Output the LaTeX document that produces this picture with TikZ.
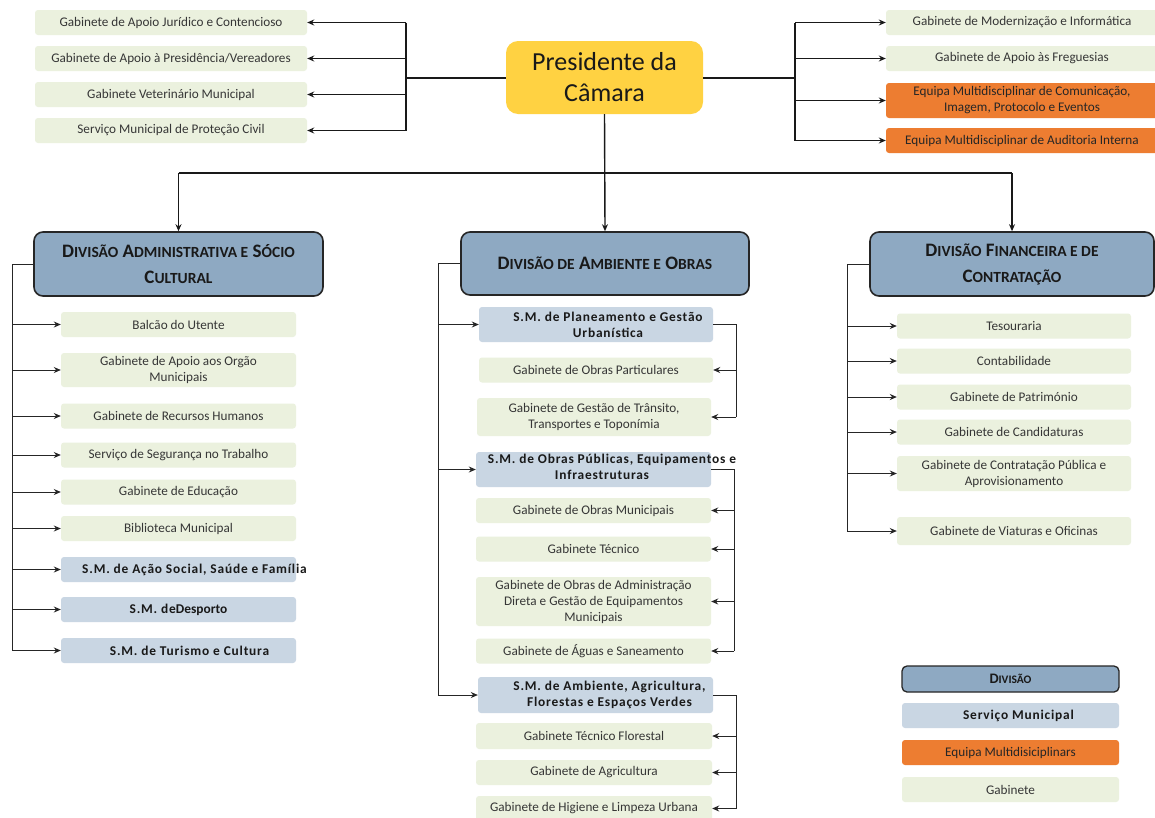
\documentclass[tikz,border=0pt]{standalone}
\usepackage{fontspec}
\setmainfont{Carlito}
\newfontfamily\smfont[LetterSpace=6]{Carlito}
\usetikzlibrary{arrows.meta}
\definecolor{gabc}{HTML}{EBF1DE}
\definecolor{smc}{HTML}{C9D6E3}
\definecolor{divc}{HTML}{8EA9C2}
\definecolor{presc}{HTML}{FFD242}
\definecolor{orc}{HTML}{ED7D31}
\definecolor{txtc}{HTML}{363636}
\newcommand\scx[1]{{\fontsize{15.5}{17}\selectfont #1}}
\tikzset{
  box/.style={rounded corners=3pt, align=center, inner sep=0pt},
  gab/.style={box, fill=gabc, text=txtc, font=\fontsize{13.2}{16}\selectfont},
  orbox/.style={box, fill=orc, text=black!85, font=\fontsize{13.2}{16}\selectfont},
  smbox/.style={box, fill=smc},
  smtext/.style={align=center, inner sep=0pt, text=black!90, font=\smfont\bfseries\fontsize{13.4}{16}\selectfont},
  divbox/.style={rounded corners=9pt, fill=divc, draw=black!85, line width=1.6pt, align=center, text=black!90, font=\bfseries\fontsize{19}{26}\selectfont},
  presbox/.style={rounded corners=12pt, fill=presc, align=center, text=black!90, font=\fontsize{26}{31}\selectfont},
  arr/.style={-{Stealth[length=7pt,width=6pt]}},
  thickln/.style={line width=2pt, black!90},
  midln/.style={line width=1.4pt, black!90},
  ln/.style={line width=0.9pt, black!85},
}
\begin{document}
\begin{tikzpicture}[x=1pt,y=-1pt]
\useasboundingbox (0,0) rectangle (1155,817);
\clip (0,0) rectangle (1155,817);
\fill[white] (0,0) rectangle (1155,817);

% President
\node[presbox, minimum width=197, minimum height=73] (P) at (604.5,77.5) {Presidente da\\Câmara};

% Top left
\node[gab, minimum width=272, minimum height=25] (tl1) at (171,22.5) {Gabinete de Apoio Jurídico e Contencioso};
\node[gab, minimum width=272, minimum height=25] (tl2) at (171,58.5) {Gabinete de Apoio à Presidência/Vereadores};
\node[gab, minimum width=272, minimum height=25] (tl3) at (171,94.5) {Gabinete Veterinário Municipal};
\node[gab, minimum width=272, minimum height=25] (tl4) at (171,130.5) {Serviço Municipal de Proteção Civil};

% Top right
\node[gab, minimum width=272, minimum height=25] (tr1) at (1022,22.5) {Gabinete de Modernização e Informática};
\node[gab, minimum width=272, minimum height=25] (tr2) at (1022,58.5) {Gabinete de Apoio às Freguesias};
\node[orbox, minimum width=272, minimum height=35] (tr3) at (1022,100.5) {Equipa Multidisciplinar de Comunicação,\\Imagem, Protocolo e Eventos};
\node[orbox, minimum width=272, minimum height=25] (tr4) at (1022,140.5) {Equipa Multidisciplinar de Auditoria Interna};

\coordinate (tlx) at (406,77.5);
\coordinate (trx) at (795,77.5);
\draw[thickln] (P.west) -- (tlx);
\draw[thickln] (P.east) -- (trx);
\draw[midln] (tlx |- tl1.east) -- (tlx |- tl4.east);
\draw[midln] (trx |- tr1.west) -- (trx |- tr4.west);
\foreach \n in {tl1,tl2,tl3,tl4} \draw[midln, arr] (tlx |- \n.east) -- (\n.east);
\foreach \n in {tr1,tr2,tr3,tr4} \draw[midln, arr] (trx |- \n.west) -- (\n.west);

% Divisions
\node[divbox, minimum width=289, minimum height=64] (dA) at (178.5,264) {D\scx{IVISÃO} A\scx{DMINISTRATIVA E} S\scx{ÓCIO}\\C\scx{ULTURAL}};
\node[divbox, minimum width=288, minimum height=63] (dB) at (605,263.5) {D\scx{IVISÃO DE} A\scx{MBIENTE E} O\scx{BRAS}};
\node[divbox, minimum width=284, minimum height=64] (dC) at (1012,264) {D\scx{IVISÃO} F\scx{INANCEIRA E DE}\\C\scx{ONTRATAÇÃO}};

\coordinate (hb) at (604.5,173);
\draw[midln, arr] (P.south) -- (dB.north);
\draw[midln] (dA.north |- hb) -- (dC.north |- hb);
\draw[midln, arr] (dA.north |- hb) -- (dA.north);
\draw[midln, arr] (dC.north |- hb) -- (dC.north);

% Left division children
\node[gab, minimum width=235, minimum height=25] (a1) at (178.5,324.5) {Balcão do Utente};
\node[gab, minimum width=235, minimum height=34] (a2) at (178.5,370) {Gabinete de Apoio aos Orgão\\Municipais};
\node[gab, minimum width=235, minimum height=25] (a3) at (178.5,416) {Gabinete de Recursos Humanos};
\node[gab, minimum width=235, minimum height=25] (a4) at (178.5,455) {Serviço de Segurança no Trabalho};
\node[gab, minimum width=235, minimum height=25] (a5) at (178.5,492) {Gabinete de Educação};
\node[gab, minimum width=235, minimum height=25] (a6) at (178.5,528.5) {Biblioteca Municipal};
\node[smbox, minimum width=235, minimum height=25, label={[smtext, xshift=16]center:S.M. de Ação Social, Saúde e Família}] (a7) at (178.5,569.5) {};
\node[smbox, minimum width=235, minimum height=25, label={[smtext]center:S.M. de{\fontspec{Carlito}[LetterSpace=0]\bfseries Desporto}}] (a8) at (178.5,609.5) {};
\node[smbox, minimum width=235, minimum height=25, label={[smtext, xshift=11]center:S.M. de Turismo e Cultura}] (a9) at (178.5,650.5) {};

\coordinate (ax) at (12,264);
\draw[ln] (dA.west) -- (ax) -- (ax |- a9.west);
\foreach \n in {a1,a2,a3,a4,a5,a6,a7,a8,a9} \draw[ln, arr] (ax |- \n.west) -- (\n.west);

% Middle division children
\node[smbox, minimum width=234, minimum height=35, label={[smtext, xshift=12]center:{S.M. de Planeamento e Gestão\\Urbanística}}] (b1) at (596,324.5) {};
\node[gab, minimum width=234, minimum height=25] (b2) at (596,370) {Gabinete de Obras Particulares};
\node[gab, minimum width=234, minimum height=38] (b3) at (594,417) {Gabinete de Gestão de Trânsito,\\Transportes e Toponímia};
\node[smbox, minimum width=235, minimum height=35] (b4) at (593.5,469.5) {};
\node[smtext, anchor=north] (b4t) at (612,454) {S.M. de Obras Públicas, Equipamentos e};
\node[smtext, anchor=north] (b4u) at (602,470) {Infraestruturas};
\node[gab, minimum width=235, minimum height=25] (b5) at (593.5,510.5) {Gabinete de Obras Municipais};
\node[gab, minimum width=235, minimum height=25] (b6) at (593.5,549) {Gabinete Técnico};
\node[gab, minimum width=235, minimum height=49] (b7) at (593.5,601.5) {Gabinete de Obras de Administração\\Direta e Gestão de Equipamentos\\Municipais};
\node[gab, minimum width=235, minimum height=25] (b8) at (593.5,651) {Gabinete de Águas e Saneamento};
\node[smbox, minimum width=235, minimum height=36, label={[smtext, xshift=14]center:{S.M. de Ambiente, Agricultura,\\Florestas e Espaços Verdes}}] (b9) at (595.5,695) {};
\node[gab, minimum width=236, minimum height=26] (b10) at (594,736) {Gabinete Técnico Florestal};
\node[gab, minimum width=236, minimum height=25] (b11) at (594,772.5) {Gabinete de Agricultura};
\node[gab, minimum width=236, minimum height=25] (b12) at (594,808.5) {Gabinete de Higiene e Limpeza Urbana};

\coordinate (bx) at (438,263.5);
\draw[ln] (dB.west) -- (bx) -- (bx |- b9.west);
\foreach \n in {b1,b4,b9} \draw[ln, arr] (bx |- \n.west) -- (\n.west);

\coordinate (b1x) at (736,324.5);
\draw[ln] (b1.east) -- (b1x) -- (b1x |- b3.east);
\foreach \n in {b2,b3} \draw[ln, arr] (b1x |- \n.east) -- (\n.east);
\coordinate (b4x) at (734,469.5);
\draw[ln] (b4.east) -- (b4x) -- (b4x |- b8.east);
\foreach \n in {b5,b6,b7,b8} \draw[ln, arr] (b4x |- \n.east) -- (\n.east);
\coordinate (b9x) at (736,695);
\draw[ln] (b9.east) -- (b9x) -- (b9x |- b12.east);
\foreach \n in {b10,b11,b12} \draw[ln, arr] (b9x |- \n.east) -- (\n.east);

% Right division children
\node[gab, minimum width=234, minimum height=25] (c1) at (1014,326) {Tesouraria};
\node[gab, minimum width=234, minimum height=25] (c2) at (1014,361) {Contabilidade};
\node[gab, minimum width=234, minimum height=25] (c3) at (1014,397) {Gabinete de Património};
\node[gab, minimum width=234, minimum height=25] (c4) at (1014,432) {Gabinete de Candidaturas};
\node[gab, minimum width=234, minimum height=35] (c5) at (1014,473.5) {Gabinete de Contratação Pública e\\Aprovisionamento};
\node[gab, minimum width=234, minimum height=28] (c6) at (1014,531) {Gabinete de Viaturas e Oficinas};

\coordinate (cx) at (847,264);
\draw[ln] (dC.west) -- (cx) -- (cx |- c6.west);
\foreach \n in {c1,c2,c3,c4,c5,c6} \draw[ln, arr] (cx |- \n.west) -- (\n.west);

% Legend
\node[divbox, line width=1.3pt, rounded corners=5pt, minimum width=217, minimum height=26, font=\bfseries\fontsize{14.5}{16}\selectfont] (l1) at (1010.5,679) {D{\fontsize{11.5}{13}\selectfont IVISÃO}};
\node[smbox, minimum width=217, minimum height=25, label={[smtext, xshift=8]center:Serviço Municipal}] (l2) at (1010.5,715.5) {};
\node[orbox, minimum width=217, minimum height=25] (l3) at (1010.5,752.5) {Equipa Multidisiciplinars};
\node[gab, minimum width=217, minimum height=25] (l4) at (1010.5,789.5) {Gabinete};
\end{tikzpicture}
\end{document}
